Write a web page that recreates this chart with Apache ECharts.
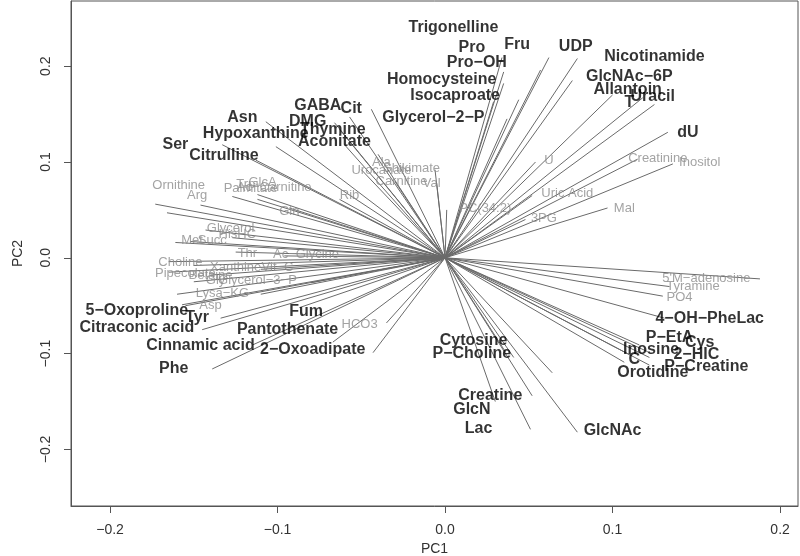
<!DOCTYPE html>
<html><head><meta charset="utf-8">
<script src="https://cdn.jsdelivr.net/npm/echarts@6/dist/echarts.min.js"></script>
<style>html,body{margin:0;padding:0;background:#fff}#c{width:800px;height:556px}</style>
</head><body><div id="c"></div>
<script>
// variable names
const names = ["Trigonelline","Pro","Pro−OH","Fru","Homocysteine","Isocaproate","Glycerol−2−P","UDP","Nicotinamide","GlcNAc−6P","Allantoin","T","Uracil","dU",
"GABA","Cit","Asn","DMG","Thymine","Hypoxanthine","Aconitate","Ser","Citrulline",
"5−Oxoproline","Tyr","Citraconic acid","Fum","Pantothenate","Cinnamic acid","2−Oxoadipate","Phe",
"Cytosine","P−Choline","Creatine","GlcN","Lac","GlcNAc","Orotidine","Inosine","C","P−EtA","Cys","2−HIC","P−Creatine","4−OH−PheLac",
"Ornithine","Arg","Trp","Palmitate","GlcA","Ac−Carnitine","Gln","Rib","Ala","Urocanate","Shikimate","Carnitine","Val",
"U","Creatinine","Inositol","Uric Acid","Mal","3PG","PC(34:2)","5'M−adenosine","Tyramine","PO4",
"Glycerol","HisHC","Succ","Met","Thr","Choline","Ac−Glycine","Xanthine","Vit−C","Pipecolate","Betaine","Gly","Glycerol−3−P","Lys","a−KG","Asp","HCO3"];
// loading end points (PC1, PC2)
const pc1 = [0.034,0.035,0.035,0.057,0.029,0.044,0.037,0.062,0.079,0.076,0.100,0.118,0.125,0.133,
-0.044,-0.057,-0.107,-0.066,-0.063,-0.101,-0.060,-0.133,-0.113,
-0.157,-0.134,-0.145,-0.087,-0.067,-0.115,-0.043,-0.139,
0.036,0.041,0.052,0.030,0.051,0.079,0.064,0.110,0.107,0.116,0.121,0.122,0.122,0.131,
-0.173,-0.166,-0.127,-0.146,-0.112,-0.112,-0.093,-0.063,-0.040,-0.050,-0.006,-0.030,-0.005,
0.054,0.115,0.136,0.052,0.097,0.048,0.001,0.188,0.134,0.130,
-0.143,-0.127,-0.152,-0.161,-0.125,-0.165,-0.096,-0.150,-0.110,-0.165,-0.140,-0.150,-0.080,-0.160,-0.110,-0.155,-0.035];
const pc2 = [0.209,0.194,0.182,0.196,0.163,0.165,0.145,0.209,0.208,0.185,0.170,0.167,0.160,0.131,
0.155,0.147,0.142,0.141,0.134,0.116,0.118,0.118,0.102,
-0.049,-0.063,-0.075,-0.052,-0.088,-0.091,-0.099,-0.116,
-0.098,-0.104,-0.144,-0.150,-0.179,-0.182,-0.120,-0.101,-0.109,-0.091,-0.098,-0.104,-0.112,-0.063,
0.056,0.047,0.064,0.055,0.066,0.061,0.052,0.061,0.108,0.092,0.092,0.080,0.078,
0.100,0.103,0.098,0.065,0.052,0.040,0.050,-0.022,-0.030,-0.040,
0.029,0.021,0.017,0.016,0.006,-0.004,0.002,-0.008,-0.012,-0.015,-0.018,-0.025,-0.026,-0.038,-0.038,-0.050,-0.068];
// label anchor points (PC1, PC2)
const labPC1 = [0.005,0.016,0.019,0.043,-0.002,0.006,-0.007,0.078,0.125,0.110,0.109,0.110,0.124,0.145,
-0.076,-0.056,-0.121,-0.082,-0.067,-0.113,-0.066,-0.161,-0.132,
-0.184,-0.148,-0.184,-0.083,-0.094,-0.146,-0.079,-0.162,
0.017,0.016,0.027,0.016,0.020,0.100,0.124,0.123,0.113,0.134,0.152,0.150,0.156,0.158,
-0.159,-0.148,-0.119,-0.116,-0.109,-0.102,-0.093,-0.057,-0.038,-0.038,-0.020,-0.026,-0.008,
0.062,0.127,0.152,0.073,0.107,0.059,0.024,0.156,0.148,0.140,
-0.128,-0.124,-0.139,-0.151,-0.118,-0.158,-0.083,-0.125,-0.100,-0.155,-0.140,-0.137,-0.112,-0.143,-0.127,-0.140,-0.051];
const labPC2 = [0.240,0.219,0.204,0.222,0.186,0.169,0.146,0.220,0.210,0.189,0.176,0.162,0.168,0.131,
0.159,0.156,0.146,0.142,0.134,0.130,0.121,0.118,0.107,
-0.055,-0.062,-0.073,-0.056,-0.075,-0.092,-0.096,-0.116,
-0.086,-0.100,-0.144,-0.158,-0.178,-0.180,-0.120,-0.096,-0.106,-0.083,-0.088,-0.101,-0.114,-0.063,
0.076,0.065,0.077,0.072,0.079,0.073,0.048,0.065,0.100,0.091,0.093,0.080,0.078,
0.102,0.104,0.100,0.067,0.052,0.041,0.052,-0.022,-0.030,-0.041,
0.031,0.024,0.018,0.018,0.005,-0.005,0.004,-0.010,-0.010,-0.016,-0.018,-0.024,-0.024,-0.037,-0.037,-0.050,-0.069];
// 1 = significant (bold black label), 0 = other (grey label)
const sig = [1,1,1,1,1,1,1,1,1,1,1,1,1,1, 1,1,1,1,1,1,1,1,1, 1,1,1,1,1,1,1,1, 1,1,1,1,1,1,1,1,1,1,1,1,1,1,
0,0,0,0,0,0,0,0,0,0,0,0,0, 0,0,0,0,0,0,0,0,0,0, 0,0,0,0,0,0,0,0,0,0,0,0,0,0,0,0,0];
const xTicks = [-0.2,-0.1,0.0,0.1,0.2];
const yTicks = [-0.2,-0.1,0.0,0.1,0.2];

const chart = echarts.init(document.getElementById('c'), null, {renderer:'canvas'});
const lineData = names.map((n,i)=>({coords:[[0,0],[pc1[i],pc2[i]]]}));
const boldData = [], greyData = [];
names.forEach((n,i)=>{ (sig[i]?boldData:greyData).push([labPC1[i],labPC2[i],n]); });
const font = 'Liberation Sans, Arial, Helvetica, sans-serif';
const labelSeries = (data, bold) => ({
  type:'scatter', data, symbol:'circle', symbolSize:1, itemStyle:{color:'rgba(0,0,0,0)'}, silent:true, z:3,
  label:{show:true, position:'inside', formatter:p=>p.data[2], fontFamily:font,
    fontSize: bold?16:13, fontWeight: bold?'bold':'normal', color: bold?'#000':'#8c8c8c'},
  labelLayout:{hideOverlap:false}
});
chart.setOption({
  animation:false,
  grid:{left:71,right:2,top:1,bottom:50,outerBoundsMode:'none',containLabel:false,show:true,borderColor:'#555',borderWidth:1},
  xAxis:{type:'value',min:-0.2233,max:0.2107,
    axisLine:{show:true,onZero:false,lineStyle:{color:'#555'}},
    axisTick:{show:true,length:7,customValues:xTicks,lineStyle:{color:'#555'}},
    axisLabel:{customValues:xTicks,formatter:v=>v.toFixed(1).replace('-','−'),margin:17,fontSize:14,fontFamily:font,color:'#333'},
    splitLine:{show:false},
    name:'PC1',nameLocation:'middle',nameGap:35,nameTextStyle:{fontSize:14,fontFamily:font,color:'#333'}},
  yAxis:{type:'value',min:-0.259,max:0.268,
    axisLine:{show:true,onZero:false,lineStyle:{color:'#555'}},
    axisTick:{show:true,length:7,customValues:yTicks,lineStyle:{color:'#555'}},
    axisLabel:{customValues:yTicks,formatter:v=>v.toFixed(1).replace('-','−'),rotate:90,margin:18,fontSize:14,fontFamily:font,color:'#333'},
    splitLine:{show:false},
    name:'PC2',nameLocation:'middle',nameGap:46,nameTextStyle:{fontSize:14,fontFamily:font,color:'#333'}},
  series:[
    {type:'lines',coordinateSystem:'cartesian2d',data:lineData,silent:true,z:2,
     lineStyle:{color:'#6a6a6a',width:1,opacity:1}},
    labelSeries(greyData,false),
    labelSeries(boldData,true)
  ]
});
</script></body></html>
